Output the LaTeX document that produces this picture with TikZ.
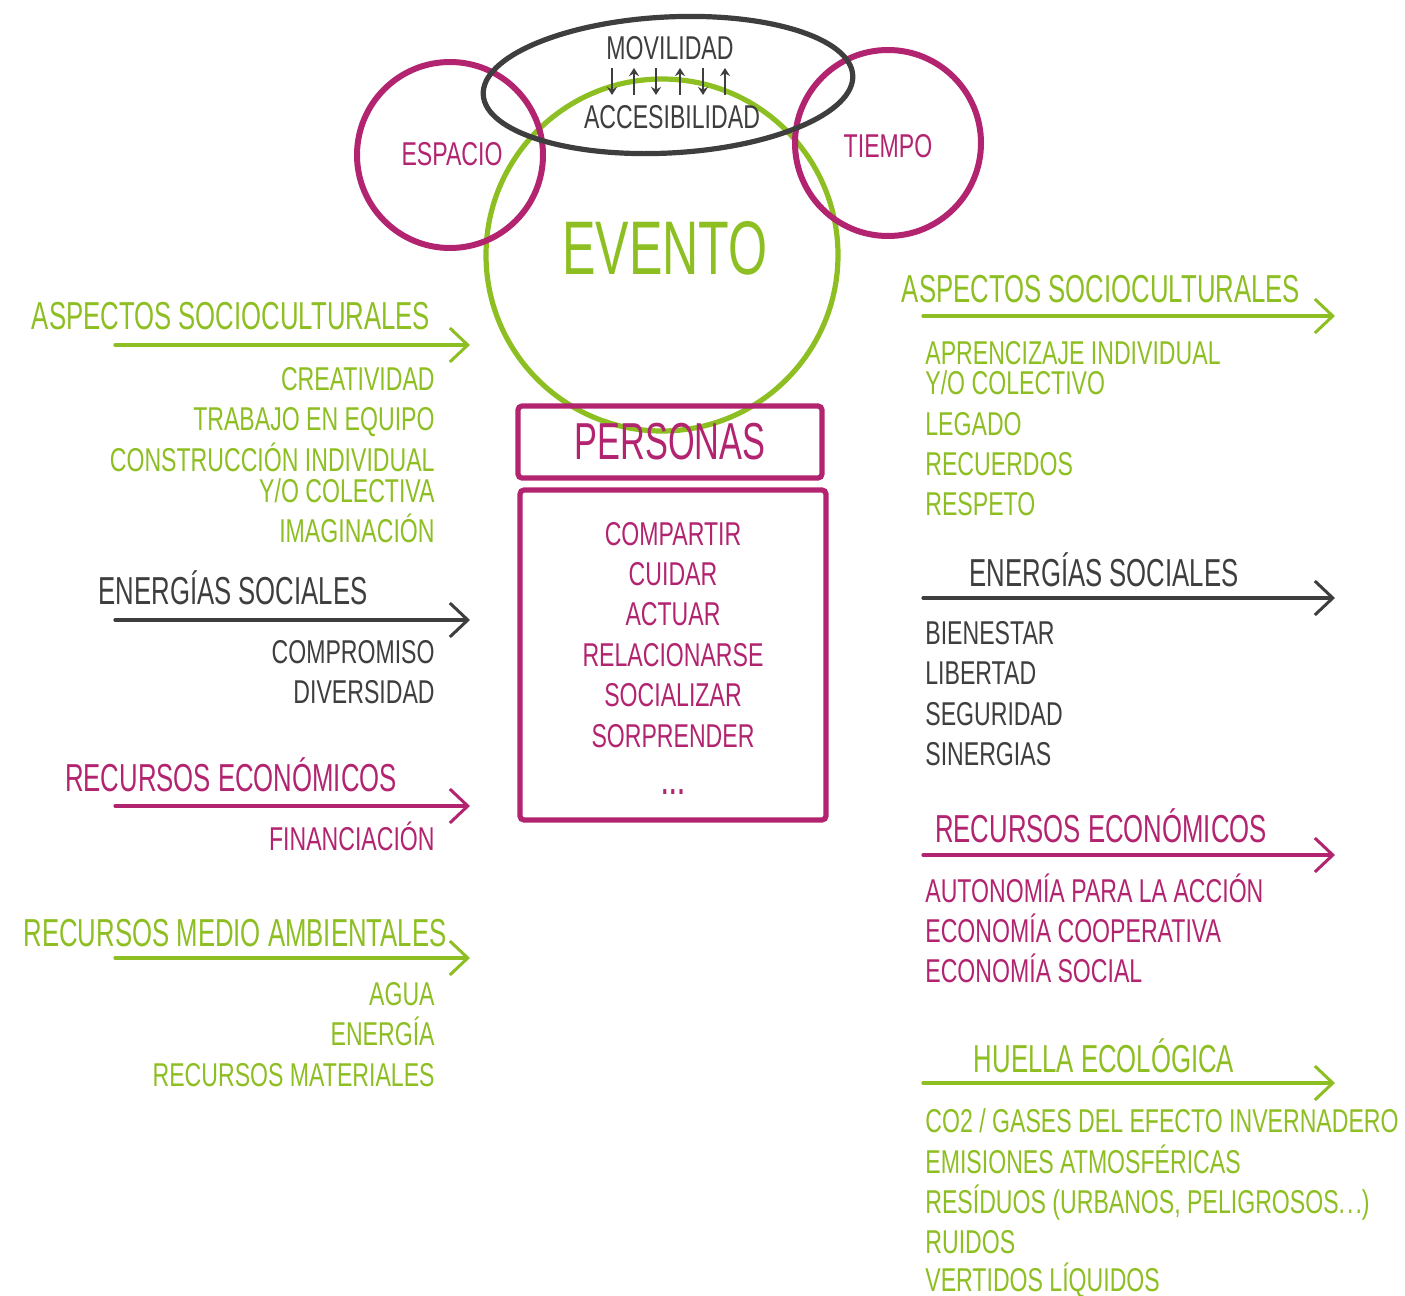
\documentclass[tikz,border=0pt]{standalone}
\usepackage{fontspec}
\setmainfont[FakeStretch=0.66]{Liberation Sans}
\newfontfamily\itemfont[FakeStretch=0.70]{Liberation Sans}
\usetikzlibrary{arrows.meta}
\definecolor{verde}{RGB}{141,190,34}
\definecolor{fucsia}{RGB}{178,36,112}
\definecolor{gris}{RGB}{62,62,62}
\newcommand{\puntos}{.\kern1pt.\kern1pt.}

\begin{document}
\begin{tikzpicture}
[x=0.5pt,y=-0.5pt,
  titleDecorate/.style={font=\fontsize{19.5}{20}\selectfont,inner sep=0pt,text height=14pt,text depth=0pt},
  itemDecorate/.style={font=\itemfont\fontsize{16.5}{17}\selectfont,inner sep=0pt,text height=12pt,text depth=0pt},
  ringDecorate/.style={line width=3pt},
  boxDecorate/.style={draw=fucsia,line width=2.6pt,rounded corners=2pt},
  arrowDecorate/.style={line width=1.6pt,line cap=round,
    -{Straight Barb[length=9pt,width=17pt,line width=1.5pt]}}]
\useasboundingbox (0,0) rectangle (1405,1296);
%% circles and ellipse
\node (evento) at (662,255) [draw=verde,line width=2.6pt,circle,minimum size=176pt] {};
\node (espacio) at (450,155) [draw=fucsia,ringDecorate,circle,minimum size=93pt] {};
\node (tiempo) at (888,143) [draw=fucsia,ringDecorate,circle,minimum size=93pt] {};
\draw[gris,line width=2.6pt,rotate around={3:(668,85)}] (668,85) ellipse [x radius=185, y radius=68];
\node at (665,248) [font=\fontsize{38}{40}\selectfont,text=verde] {EVENTO};
\node at (452,153) [itemDecorate,text=fucsia] {ESPACIO};
\node at (888,145) [itemDecorate,text=fucsia] {TIEMPO};
\node (movilidad) at (670,47) [itemDecorate,text=gris] {MOVILIDAD};
\node (accesibilidad) at (672,116) [itemDecorate,text=gris] {ACCESIBILIDAD};
%% small arrows between movilidad and accesibilidad
\foreach \x/\a/\b in {612/68/95, 634/95/68, 656/68/95, 680/95/68, 703/68/95, 725/95/68} {
  \draw[gris,line width=1.2pt,-{Stealth[length=4pt,width=5pt]}] (\x,\a) -- (\x,\b);
}
%% personas
\node (personas) at (670,442) [boxDecorate,minimum width=152pt,minimum height=36pt,
  font=\fontsize{26}{28}\selectfont,text=fucsia] {PERSONAS};
\node (acciones) at (673,655) [boxDecorate,minimum width=153pt,minimum height=165pt] {};
\foreach \nodename/\y/\txt in {p1/533/COMPARTIR, p2/573/CUIDAR, p3/613/ACTUAR,
  p4/654/RELACIONARSE, p5/694/SOCIALIZAR, p6/735/SORPRENDER} {
  \node (\nodename) at (673,\y) [itemDecorate,text=fucsia] {\txt};
}
\node (p7) at (673,782) [itemDecorate,text=fucsia,font=\bfseries\fontsize{16.5}{17}\selectfont] {\puntos};
%% left column titles
\node (lasc) at (231,315) [titleDecorate,text=verde] {ASPECTOS SOCIOCULTURALES};
\node (lene) at (233,590) [titleDecorate,text=gris] {ENERGÍAS SOCIALES};
\node (lrec) at (231,777) [titleDecorate,text=fucsia] {RECURSOS ECONÓMICOS};
\node (lamb) at (235,932) [titleDecorate,text=verde] {RECURSOS MEDIO AMBIENTALES};
%% left column arrows
\foreach \nodename/\y/\col in {lasc/345/verde, lene/620/gris, lrec/806/fucsia, lamb/958/verde} {
  \coordinate (\nodename-s) at (115,\y);
  \coordinate (\nodename-e) at (470,\y);
  \draw[arrowDecorate,\col] (\nodename-s) -- (\nodename-e);
}
%% left column items
\foreach \nodename/\y/\txt/\col in {l1/378/CREATIVIDAD/verde, l2/418/TRABAJO EN EQUIPO/verde,
  l3/459/CONSTRUCCIÓN INDIVIDUAL/verde, l4/490/{Y/O COLECTIVA}/verde, l5/530/IMAGINACIÓN/verde,
  l6/651/COMPROMISO/gris, l7/691/DIVERSIDAD/gris, l8/838/FINANCIACIÓN/fucsia,
  l9/993/AGUA/verde, l10/1033/ENERGÍA/verde, l11/1074/RECURSOS MATERIALES/verde} {
  \node (\nodename) at (435,\y) [itemDecorate,anchor=east,text=\col] {\txt};
}
%% right column titles
\node (rasc) at (1101,288) [titleDecorate,text=verde] {ASPECTOS SOCIOCULTURALES};
\node (rene) at (1104,572) [titleDecorate,text=gris] {ENERGÍAS SOCIALES};
\node (rrec) at (1101,828) [titleDecorate,text=fucsia] {RECURSOS ECONÓMICOS};
\node (rhue) at (1104,1058) [titleDecorate,text=verde] {HUELLA ECOLÓGICA};
%% right column arrows
\foreach \nodename/\y/\col in {rasc/316/verde, rene/598/gris, rrec/855/fucsia, rhue/1083/verde} {
  \coordinate (\nodename-s) at (923,\y);
  \coordinate (\nodename-e) at (1335,\y);
  \draw[arrowDecorate,\col] (\nodename-s) -- (\nodename-e);
}
%% right column items
\foreach \nodename/\y/\txt/\col in {r1/352/APRENCIZAJE INDIVIDUAL/verde, r2/382/{Y/O COLECTIVO}/verde,
  r3/423/LEGADO/verde, r4/463/RECUERDOS/verde, r5/503/RESPETO/verde,
  r6/632/BIENESTAR/gris, r7/672/LIBERTAD/gris, r8/713/SEGURIDAD/gris, r9/753/SINERGIAS/gris,
  r10/890/AUTONOMÍA PARA LA ACCIÓN/fucsia, r11/930/ECONOMÍA COOPERATIVA/fucsia,
  r12/970/ECONOMÍA SOCIAL/fucsia,
  r13/1120/{CO2 / GASES DEL EFECTO INVERNADERO}/verde, r14/1161/EMISIONES ATMOSFÉRICAS/verde,
  r15/1201/{RESÍDUOS (URBANOS, PELIGROSOS\puntos)}/verde, r16/1241/RUIDOS/verde,
  r17/1279/VERTIDOS LÍQUIDOS/verde} {
  \node (\nodename) at (925,\y) [itemDecorate,anchor=west,text=\col] {\txt};
}
\end{tikzpicture}
\end{document}
